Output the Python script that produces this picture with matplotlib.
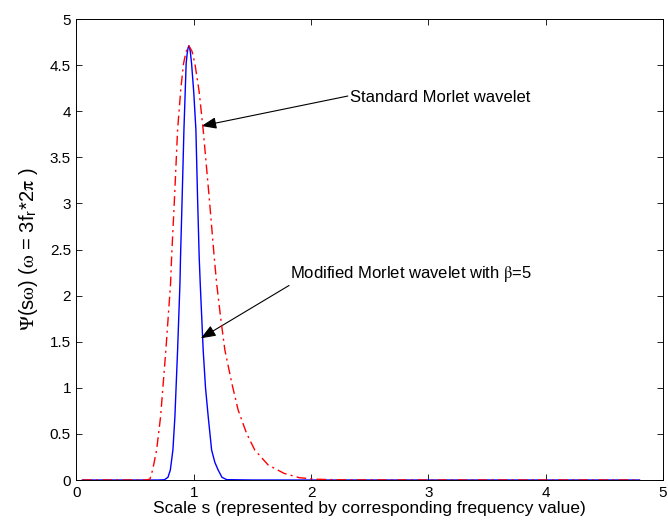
import matplotlib
matplotlib.use("Agg")
import matplotlib.pyplot as plt

plt.rcParams['font.family'] = ['Liberation Sans', 'DejaVu Sans']
plt.rcParams['mathtext.fontset'] = 'stix'

# Modified Morlet wavelet (beta = 5), spectrum vs. scale
mod_x = [0.05, 0.40, 0.70, 0.75, 0.78, 0.80, 0.822, 0.839, 0.862, 0.882, 0.887,
         0.901, 0.916, 0.935, 0.945, 0.952, 0.958, 0.964, 0.970, 0.981, 1.000,
         1.018, 1.032, 1.046, 1.055, 1.080, 1.100, 1.123, 1.152, 1.180, 1.208,
         1.240, 1.280, 1.50, 3.00, 4.80]
mod_y = [0.0, 0.0, 0.0, 0.003, 0.03, 0.108, 0.325, 0.687, 1.41, 2.13, 2.42,
         3.07, 3.80, 4.52, 4.64, 4.69, 4.71, 4.69, 4.65, 4.52, 4.20,
         3.80, 3.07, 2.42, 2.13, 1.41, 1.00, 0.687, 0.325, 0.19, 0.108,
         0.03, 0.004, 0.0, 0.0, 0.0]

# Standard Morlet wavelet, spectrum vs. scale
std_x = [0.05, 0.40, 0.58, 0.60, 0.626, 0.649, 0.683, 0.717, 0.762, 0.802, 0.811,
         0.836, 0.862, 0.890, 0.913, 0.935, 0.958, 0.985, 1.009, 1.045, 1.080,
         1.131, 1.174, 1.195, 1.230, 1.265, 1.326, 1.378, 1.450, 1.520, 1.634,
         1.770, 1.900, 2.050, 2.300, 3.00, 4.80]
std_y = [0.0, 0.0, 0.0, 0.002, 0.01, 0.108, 0.325, 0.687, 1.41, 2.13, 2.42,
         3.07, 3.80, 4.25, 4.52, 4.65, 4.71, 4.65, 4.52, 4.22, 3.80,
         3.07, 2.42, 2.13, 1.75, 1.41, 1.04, 0.76, 0.506, 0.325, 0.163,
         0.072, 0.025, 0.008, 0.001, 0.0, 0.0]

x_ticks = [0, 1, 2, 3, 4, 5]
y_ticks = [0, 0.5, 1, 1.5, 2, 2.5, 3, 3.5, 4, 4.5, 5]
y_tick_labels = ['0', '0.5', '1', '1.5', '2', '2.5', '3', '3.5', '4', '4.5', '5']

fig = plt.figure(figsize=(6.68, 5.29), dpi=100)
ax = fig.add_axes([0.1145, 0.0926, 0.8780, 0.8714])

ax.plot(mod_x, mod_y, color='#0000ff', lw=1.0, zorder=3)
ax.plot(std_x, std_y, color='#ff0000', lw=1.0, dashes=[7, 3, 1.5, 3], zorder=4)

ax.set_xlim(0, 5)
ax.set_ylim(0, 5)
ax.set_xticks(x_ticks)
ax.set_xticklabels([str(v) for v in x_ticks])
ax.set_yticks(y_ticks)
ax.set_yticklabels(y_tick_labels)
ax.tick_params(direction='in', length=4.2, width=0.6, labelsize=11,
               top=True, right=True, pad=4)
for sp in ax.spines.values():
    sp.set_linewidth(0.7)

ax.set_xlabel('Scale s (represented by corresponding frequency value)',
              fontsize=12.5, labelpad=1)
ax.set_ylabel(r'$\Psi$(s$\mathrm{\omega}$) ($\mathrm{\omega}$ = 3f$_\mathregular{r}$*2$\mathrm{\pi}$ )',
              fontsize=14.5)
ax.yaxis.set_label_coords(-0.062, 0.5)

arrow_kw = dict(arrowstyle='-|>,head_length=0.9,head_width=0.35',
                color='black', lw=0.8, shrinkA=0, shrinkB=0)
ax.annotate('', xy=(1.066, 3.84), xytext=(2.313, 4.165), arrowprops=arrow_kw)
ax.text(2.33, 4.15, 'Standard Morlet wavelet', fontsize=12,
        ha='left', va='center')

ax.annotate('', xy=(1.06, 1.537), xytext=(1.812, 2.11), arrowprops=arrow_kw)
ax.text(1.818, 2.234, r'Modified Morlet wavelet with $\mathrm{\beta}$=5', fontsize=12,
        ha='left', va='center')

fig.savefig('out.png', dpi=100)
